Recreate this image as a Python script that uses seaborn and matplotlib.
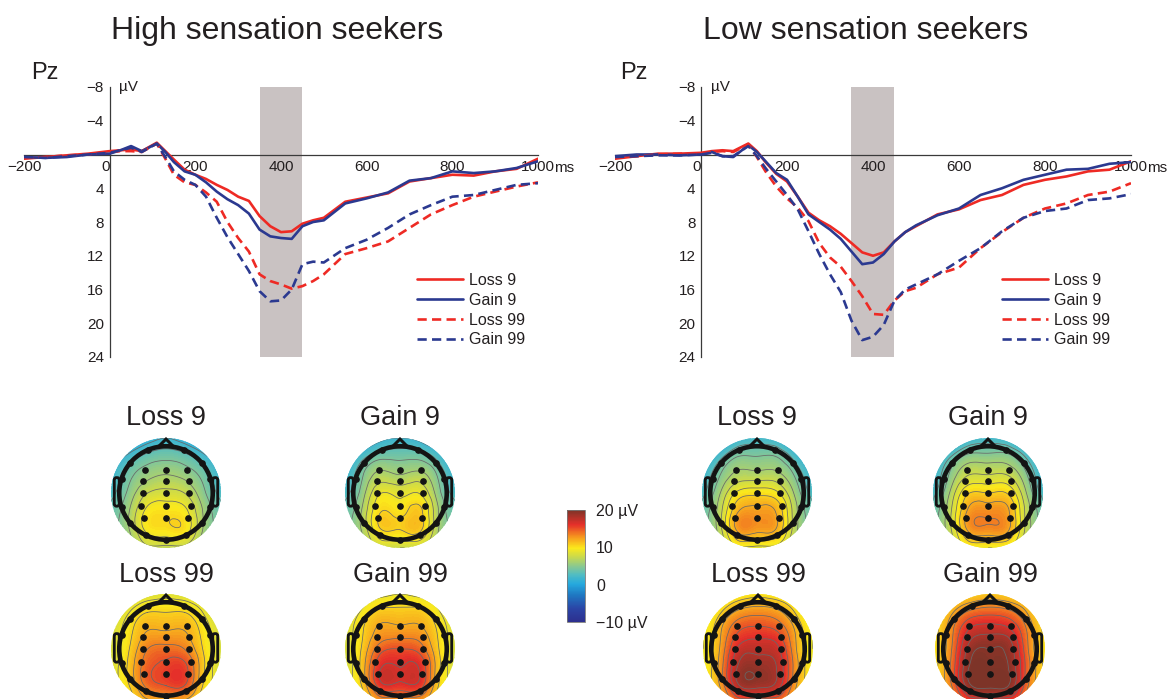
import numpy as np
import pandas as pd
import matplotlib
matplotlib.use("Agg")
import matplotlib.pyplot as plt
import seaborn as sns
from matplotlib.patches import Circle, Polygon, FancyBboxPatch
from matplotlib.colors import LinearSegmentedColormap, Normalize
from matplotlib.cm import ScalarMappable
from matplotlib.tri import Triangulation, UniformTriRefiner

# ---------------- data ----------------
time_ms = [-200, -150, -100, -50, 0, 25, 50, 75, 110, 130, 150, 175, 200, 225, 250,
           275, 300, 325, 350, 375, 400, 425, 450, 475, 500, 550, 600, 650, 700,
           750, 800, 850, 900, 950, 1000]

high_loss9 = [0.5, 0.3, 0.1, -0.1, -0.4, -0.5, -0.6, -0.4, -1.4, -0.4, 0.6, 1.8, 2.4, 2.9, 3.6,
              4.2, 5.0, 5.5, 7.3, 8.5, 9.2, 9.1, 8.2, 7.8, 7.5, 5.6, 5.1, 4.6, 3.2,
              2.8, 2.4, 2.5, 2.0, 1.7, 0.5]
high_gain9 = [0.3, 0.4, 0.3, 0.0, -0.1, -0.5, -1.0, -0.4, -1.3, -0.3, 0.9, 2.0, 2.4, 3.3, 4.4,
              5.3, 6.0, 7.0, 8.9, 9.7, 9.9, 10.0, 8.5, 8.0, 7.8, 5.8, 5.2, 4.5, 3.1,
              2.8, 2.0, 2.2, 2.0, 1.6, 0.8]
high_loss99 = [0.4, 0.3, 0.1, 0.0, -0.3, -0.4, -0.4, -0.3, -1.3, 0.5, 2.4, 3.3, 3.6, 4.5, 5.6,
               8.0, 9.9, 11.5, 14.2, 15.0, 15.4, 15.9, 15.6, 15.0, 14.2, 11.8, 11.1, 10.3, 8.7,
               7.1, 6.0, 5.0, 4.4, 3.8, 3.3]
high_gain99 = [0.3, 0.4, 0.2, 0.0, -0.2, -0.5, -0.8, -0.3, -1.3, 0.3, 2.0, 3.0, 3.6, 5.0, 7.5,
               9.8, 11.8, 13.8, 16.2, 17.4, 17.3, 16.0, 13.0, 12.7, 12.8, 11.1, 10.1, 8.7, 7.1,
               6.0, 5.0, 4.8, 4.2, 3.6, 3.4]

low_loss9 = [0.5, 0.2, -0.1, -0.1, -0.2, -0.4, -0.5, -0.4, -1.3, -0.4, 0.9, 2.3, 3.2, 5.0, 6.9,
             7.8, 8.5, 9.4, 10.5, 11.6, 12.0, 11.6, 10.3, 9.2, 8.5, 7.1, 6.5, 5.4, 4.8,
             3.6, 3.0, 2.6, 2.0, 1.8, 0.8]
low_gain9 = [0.2, 0.0, 0.0, 0.1, 0.0, -0.3, 0.2, 0.3, -1.1, -0.3, 0.8, 2.2, 3.0, 5.0, 7.1,
             8.0, 8.9, 10.0, 11.5, 13.0, 12.8, 11.8, 10.3, 9.2, 8.4, 7.2, 6.4, 4.8, 4.0,
             3.0, 2.4, 1.8, 1.7, 1.1, 0.9]
low_loss99 = [0.4, 0.2, 0.0, -0.1, -0.1, -0.3, -0.4, -0.3, -1.2, 0.3, 2.0, 3.8, 5.2, 6.3, 7.9,
              10.5, 12.2, 13.3, 15.0, 16.8, 18.9, 19.0, 17.3, 16.2, 15.8, 14.2, 13.4, 11.1, 9.2,
              7.5, 6.4, 5.8, 4.8, 4.4, 3.4]
low_gain99 = [0.3, 0.2, 0.1, 0.1, 0.0, -0.2, 0.2, 0.2, -1.0, 0.2, 1.6, 3.2, 4.8, 6.5, 9.1,
              11.8, 14.2, 16.3, 19.7, 22.0, 21.6, 20.2, 17.3, 16.0, 15.4, 14.2, 12.6, 11.1, 9.1,
              7.5, 6.7, 6.4, 5.4, 5.2, 4.7]

conditions = ["Loss 9", "Gain 9", "Loss 99", "Gain 99"]
panel_titles = ["High sensation seekers", "Low sensation seekers"]
x_ticks = [-200, 0, 200, 400, 600, 800, 1000]
x_ticklabels = ["\u2212200", "0", "200", "400", "600", "800", "1000"]
y_ticks = [-8, -4, 4, 8, 12, 16, 20, 24]
y_ticklabels = ["\u22128", "\u22124", "4", "8", "12", "16", "20", "24"]

# topographic maps (7x7 grid, rows front->back, cols left->right), µV
topo_high_loss9 = [[-2, -1, 0.5, 1.5, 0.5, -1, -2],
                   [0, 2, 3.5, 4, 3.5, 2, 0],
                   [1.5, 4, 5.5, 6, 5.5, 4, 1.5],
                   [2.5, 5, 7.5, 8, 7.5, 5, 2.5],
                   [3.5, 6, 9.5, 10, 9.5, 6, 3.5],
                   [4, 6, 9.5, 10, 10, 6, 4],
                   [4, 5, 7, 7, 7, 5, 4]]
topo_high_gain9 = [[-2, -1, 1, 1.5, 1, -1, -2],
                   [0, 2.5, 4, 4, 4, 2.5, 0],
                   [1.5, 4.5, 6.5, 6, 6.5, 4.5, 1.5],
                   [2.5, 5.5, 9, 8.5, 9, 5.5, 2.5],
                   [3.5, 6.5, 10.5, 10, 11, 6.5, 3.5],
                   [4, 6.5, 10.5, 10.5, 11, 6.5, 4],
                   [4, 5.5, 7.5, 7.5, 7.5, 5.5, 4]]
topo_high_loss99 = [[5.5, 7, 8, 8.5, 8, 7, 5.5],
                    [7, 9, 10.5, 10.5, 10.5, 9, 7],
                    [8, 10, 12, 12, 12, 10, 8],
                    [8, 10.5, 13.5, 14, 13.5, 10.5, 8],
                    [8, 11, 14.5, 15.5, 15.5, 11, 8],
                    [8, 10.5, 14, 15, 15, 10.5, 8],
                    [7, 9, 11, 11, 11, 9, 7]]
topo_high_gain99 = [[5.5, 7.5, 8.5, 9, 8.5, 7.5, 5.5],
                    [7, 9.5, 11, 11, 11, 9.5, 7],
                    [8, 10.5, 12.5, 12.5, 12.5, 10.5, 8],
                    [8, 11, 14.5, 15, 14.5, 11, 8],
                    [8, 11.5, 16.5, 16.5, 16.5, 11.5, 8],
                    [8, 11, 16, 16, 16, 11, 8],
                    [7, 9.5, 11.5, 11.5, 11.5, 9.5, 7]]
topo_low_loss9 = [[-2, -1, 1.5, 2, 1.5, -1, -2],
                  [0, 2.5, 4.5, 4.5, 4.5, 2.5, 0],
                  [1.5, 4.5, 6.5, 6.5, 6.5, 4.5, 1.5],
                  [2.5, 6, 9.5, 10, 9.5, 6, 2.5],
                  [3.5, 7, 12, 12.5, 12, 7, 3.5],
                  [4, 7, 12.5, 12.5, 12, 7, 4],
                  [4, 6, 8.5, 8.5, 8.5, 6, 4]]
topo_low_gain9 = [[-2, -1, 1.5, 2, 1.5, -1, -2],
                  [0.5, 3, 5, 5, 5, 3, 0.5],
                  [1.5, 5, 7.5, 7.5, 7.5, 5, 1.5],
                  [2.5, 6.5, 10.5, 10.5, 10.5, 6.5, 2.5],
                  [3.5, 7.5, 12.5, 13, 12.5, 7.5, 3.5],
                  [4, 7.5, 12.5, 13, 12.5, 7.5, 4],
                  [4, 6.5, 9, 9, 9, 6.5, 4]]
topo_low_loss99 = [[6.5, 8.5, 9.5, 10, 9.5, 8.5, 6],
                   [8, 10.5, 12.5, 13, 12.5, 10.5, 8],
                   [9, 12, 15, 15.5, 15, 12, 9],
                   [9, 12.5, 17, 17.5, 17, 12.5, 9],
                   [9, 13, 18.5, 19, 18, 13, 9],
                   [9, 12.5, 18, 18.5, 17.5, 12.5, 9],
                   [8, 11, 13, 13, 13, 11, 8]]
topo_low_gain99 = [[7.5, 9.5, 10.5, 11, 10.5, 9.5, 7.5],
                   [9, 12, 14, 14.5, 14, 12, 9],
                   [10, 13.5, 17, 17.5, 17, 13.5, 10],
                   [10, 14, 19, 19.5, 19, 14, 10],
                   [10, 14.5, 20, 20, 19.5, 14.5, 10],
                   [10, 14, 19.5, 20, 19.5, 14, 10],
                   [9, 12, 14, 14, 14, 12, 9]]

cbar_ticks = [-10, 0, 10, 20]
cbar_ticklabels = ["\u221210 \u00b5V", "0", "10", "20 \u00b5V"]

# ---------------- style ----------------
sns.set_style("white")
plt.rcParams["font.family"] = ["Liberation Sans", "DejaVu Sans"]
plt.rcParams["axes.unicode_minus"] = True

W, H = 1171, 699
fig = plt.figure(figsize=(W / 100, H / 100), dpi=100)
fig.patch.set_facecolor("white")

TXT = "#231f20"
AX = "#3a3a3a"
RED = "#ee2a24"
BLUE = "#2b3990"
DASH = (0, (3.5, 2.0))


def fx(px):
    return px / W


def fy(py):
    return 1 - py / H


def erp_panel(x0, x1, legend_xy, series):
    ax = fig.add_axes([fx(x0), fy(357), fx(x1 - x0), (357 - 87) / H])
    ax.axvspan(350, 450, color="#c9c2c2", lw=0, zorder=0)
    styles = [(RED, "-"), (BLUE, "-"), (RED, DASH), (BLUE, DASH)]
    for name, vals, (col, ls) in zip(conditions, series, styles):
        df = pd.DataFrame({"t": time_ms, "v": vals})
        sns.lineplot(data=df, x="t", y="v", ax=ax, color=col, linestyle=ls,
                     lw=1.9, label=name, zorder=3)
    ax.set_xlim(-200, 1000)
    ax.set_ylim(24, -8)
    ax.set_xlabel("")
    ax.set_ylabel("")
    for s in ["top", "right"]:
        ax.spines[s].set_visible(False)
    ax.spines["left"].set_position(("data", 0))
    ax.spines["bottom"].set_position(("data", 0))
    for s in ["left", "bottom"]:
        ax.spines[s].set_color(AX)
        ax.spines[s].set_linewidth(0.9)
        ax.spines[s].set_zorder(2)
    ax.set_xticks(x_ticks)
    ax.set_xticklabels(x_ticklabels)
    ax.set_yticks(y_ticks)
    ax.set_yticklabels(y_ticklabels)
    ax.tick_params(direction="in", length=4, width=0.8, color=AX,
                   labelcolor=TXT, labelsize=11, pad=4)
    for lab in ax.get_xticklabels():
        if lab.get_text() == "0":
            lab.set_ha("right")
    ax.annotate("ms", xy=(1000, 0), xytext=(11.5, -4.5), textcoords="offset points",
                ha="left", va="top", fontsize=11, color=TXT)
    ax.annotate("\u00b5V", xy=(0, -8), xytext=(7, 0), textcoords="offset points",
                ha="left", va="center", fontsize=11, color=TXT)
    ax.patch.set_alpha(0)
    ax.legend(loc="upper left", bbox_to_anchor=(fx(legend_xy[0]), fy(legend_xy[1])),
              bbox_transform=fig.transFigure, frameon=False, fontsize=11.5,
              handlelength=2.9, handletextpad=0.35, labelspacing=0.3,
              borderpad=0, borderaxespad=0, labelcolor=TXT)
    return ax


erp_panel(24, 538, (417, 273), [high_loss9, high_gain9, high_loss99, high_gain99])
erp_panel(615, 1131, (1002, 273), [low_loss9, low_gain9, low_loss99, low_gain99])

fig.text(fx(277), fy(39), panel_titles[0], ha="center", va="baseline",
         fontsize=23, color=TXT)
fig.text(fx(866), fy(39), panel_titles[1], ha="center", va="baseline",
         fontsize=23, color=TXT)
fig.text(fx(31), fy(79), "Pz", ha="left", va="baseline", fontsize=17, color=TXT)
fig.text(fx(620), fy(79), "Pz", ha="left", va="baseline", fontsize=17, color=TXT)

# ---------------- topographic maps ----------------
cmap = LinearSegmentedColormap.from_list("printjet", [
    (0.00, "#2d2f8e"), (0.12, "#2b45a6"), (0.24, "#1f78c2"), (0.34, "#25a9de"),
    (0.42, "#4fbcc4"), (0.50, "#8cc98e"), (0.58, "#c8d94e"), (0.66, "#fbe91c"),
    (0.76, "#f6971e"), (0.87, "#e5302a"), (1.00, "#7d3428")], N=256)
norm = Normalize(vmin=-10, vmax=20)

grid = np.linspace(-1.0, 1.0, 7)
GX, GY = np.meshgrid(grid, grid[::-1])
base_tri = Triangulation(GX.ravel(), GY.ravel())
refiner = UniformTriRefiner(base_tri)

inner_rows = [(0.42, 0.39), (0.21, 0.41), (0.0, 0.42), (-0.245, 0.45), (-0.46, 0.40)]
ring_angles = [22, 50, 72, 108, 130, 155, 180, -155, -130, -108, -72, -50, -22]
R_HEAD = 0.85
R_PX = 55
INK = "#141414"


def topomap(cx, cy, vals, title, title_y):
    half = 1.1 * R_PX
    ax = fig.add_axes([fx(cx - half), fy(cy + half), 2 * half / W, 2 * half / H])
    ax.set_xlim(-1.1, 1.1)
    ax.set_ylim(-1.1, 1.1)
    ax.set_aspect("equal")
    ax.axis("off")
    z = np.asarray(vals, float).ravel()
    tri_f, z_f = refiner.refine_field(z, subdiv=4)
    cf = ax.tricontourf(tri_f, z_f, levels=np.linspace(-10, 20, 121), cmap=cmap,
                        norm=norm, extend="both")
    cf.set_clip_path(Circle((0, 0), 1.0, transform=ax.transData))
    cl = ax.tricontour(tri_f, z_f, levels=np.arange(-9, 21, 1.5), colors="#686868",
                       linewidths=0.55)
    cl.set_clip_path(Circle((0, 0), 1.0, transform=ax.transData))
    # head outline
    ax.add_patch(Circle((0, 0), R_HEAD, fill=False, lw=3.3, ec=INK, zorder=5))
    ax.add_patch(Polygon([(-0.14, R_HEAD - 0.01), (0.0, 0.98), (0.14, R_HEAD - 0.01)],
                         closed=False, fill=False, lw=2.2, ec=INK, zorder=5))
    for left in (0.85, -0.94):
        ax.add_patch(FancyBboxPatch((left, -0.24), 0.09, 0.52,
                                    boxstyle="round,pad=0.0,rounding_size=0.04",
                                    fill=False, lw=2.0, ec=INK, zorder=5))
    for ang in ring_angles:
        a = np.deg2rad(ang)
        ax.plot(R_HEAD * np.sin(a), R_HEAD * np.cos(a), "o", ms=3.8, color=INK, zorder=6)
    for ry, sx in inner_rows:
        for ix in (-sx, 0.0, sx):
            ax.plot(ix, ry, "o", ms=3.8, color=INK, zorder=6)
    fig.text(fx(cx), fy(title_y), title, ha="center", va="baseline", fontsize=19.5, color=TXT)
    return ax


topomap(166, 493, topo_high_loss9, "Loss 9", 425)
topomap(400, 493, topo_high_gain9, "Gain 9", 425)
topomap(166, 649, topo_high_loss99, "Loss 99", 582)
topomap(400, 649, topo_high_gain99, "Gain 99", 582)
topomap(757, 493, topo_low_loss9, "Loss 9", 425)
topomap(988, 493, topo_low_gain9, "Gain 9", 425)
topomap(758, 649, topo_low_loss99, "Loss 99", 582)
topomap(990, 649, topo_low_gain99, "Gain 99", 582)

# ---------------- colorbar ----------------
cax = fig.add_axes([fx(567), fy(622), 18 / W, 112 / H])
cb = fig.colorbar(ScalarMappable(norm=norm, cmap=cmap), cax=cax, ticks=cbar_ticks)
cb.ax.set_yticklabels(cbar_ticklabels)
cb.ax.tick_params(length=0, labelsize=11.5, labelcolor=TXT, pad=8)
cb.outline.set_linewidth(0.6)
cb.outline.set_edgecolor("#777777")

fig.savefig("out.png", dpi=100, facecolor="white")
